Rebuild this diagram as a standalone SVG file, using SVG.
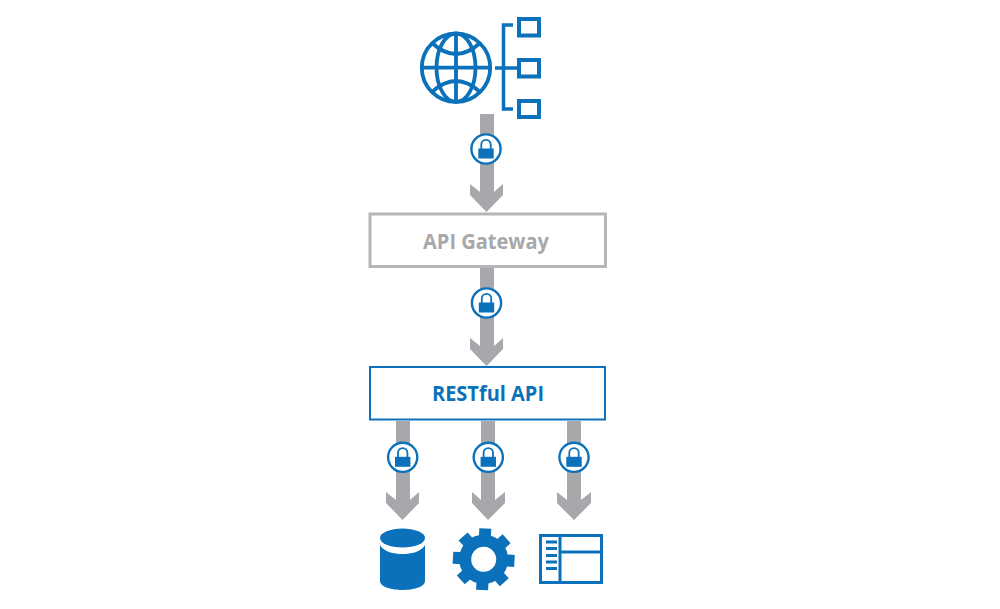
<svg xmlns="http://www.w3.org/2000/svg" width="1000" height="609" viewBox="0 0 1000 609">
<style>
.a{fill:#a7a8ab}
.b{fill:#0a71ba}
.l{fill:none;stroke:#0a71ba}
.t{font-family:"Open Sans","Liberation Sans",sans-serif;font-size:21px;font-weight:700;text-anchor:middle}
</style>
<defs>
<symbol id="lock" overflow="visible">
<circle cx="0" cy="0" r="14.600" fill="#fff" stroke="#0a71ba" stroke-width="2.400"/>
<path d="M-4.700 0V-4.500a4.700 4.700 0 0 1 9.400 0V0" fill="none" stroke="#0a71ba" stroke-width="1.800"/>
<rect x="-7.700" y="-0.500" width="15.400" height="10" fill="#0a71ba"/>
</symbol>
</defs>
<rect width="1000" height="609" fill="#fff"/>
<g id="connectors">
<path class="a" d="M480 114H494V192L503 184V195L486.500 212L470 195V184L480 192Z"/>
<path class="a" d="M480 267H494V346L503 338V349L486.500 366L470 349V338L480 346Z"/>
<path class="a" d="M396 421H410V500L419 492V503L402.500 520L386 503V492L396 500Z"/>
<path class="a" d="M481 421H495V500L505 492V503L488 520L472 503V492L481 500Z"/>
<path class="a" d="M567 421H581V500L591 492V503L574 520L557 503V492L567 500Z"/>
<use href="#lock" x="486" y="149"/>
<use href="#lock" x="486.500" y="303"/>
<use href="#lock" x="402.700" y="457.300"/>
<use href="#lock" x="488.300" y="457.300"/>
<use href="#lock" x="574" y="457.300"/>
</g>
<g id="client">
<g class="l" stroke-width="3.800">
<circle cx="456" cy="67.700" r="34.200"/>
<ellipse cx="456" cy="67.700" rx="19.500" ry="34.200"/>
<path d="M456 33V102M421.500 67.700H490.500"/>
<path d="M432 43Q456 65 480 43M432 92Q456 70 480 92"/>
</g>
<g class="l" stroke-width="3.500">
<path d="M513 25H503.500V109H513M495 68H517"/>
</g>
<g class="l" stroke-width="4">
<rect x="519" y="19" width="20" height="16.500"/>
<rect x="519" y="60" width="20" height="16.500"/>
<rect x="519" y="101" width="20" height="16"/>
</g>
</g>
<g id="api-gateway">
<rect x="370" y="214" width="235.500" height="52.500" fill="#fff" stroke="#b5b6b8" stroke-width="3"/>
<text class="t" x="486" y="248.500" fill="#a7a8ab" textLength="126" lengthAdjust="spacingAndGlyphs">API Gateway</text>
</g>
<g id="restful-api">
<rect x="370" y="367" width="235" height="52.500" fill="#fff" stroke="#0a71ba" stroke-width="2"/>
<text class="t" x="488" y="400.500" fill="#0a71ba" textLength="112" lengthAdjust="spacingAndGlyphs">RESTful API</text>
</g>
<g id="database">
<ellipse class="b" cx="402.500" cy="538" rx="22.500" ry="9.500"/>
<path class="b" d="M380 545C384 552 394 554 402.500 554S421 552 425 545V581C425 587 413 590 402.500 590S380 587 380 581Z"/>
</g>
<g id="service">
<g transform="rotate(3 483.700 559.300)">
<circle cx="483.700" cy="559.300" r="18.500" fill="none" stroke="#0a71ba" stroke-width="12"/>
<g class="b">
<rect x="477.700" y="528.500" width="12" height="12"/>
<rect x="477.700" y="528.500" width="12" height="12" transform="rotate(45 483.700 559.300)"/>
<rect x="477.700" y="528.500" width="12" height="12" transform="rotate(90 483.700 559.300)"/>
<rect x="477.700" y="528.500" width="12" height="12" transform="rotate(135 483.700 559.300)"/>
<rect x="477.700" y="528.500" width="12" height="12" transform="rotate(180 483.700 559.300)"/>
<rect x="477.700" y="528.500" width="12" height="12" transform="rotate(225 483.700 559.300)"/>
<rect x="477.700" y="528.500" width="12" height="12" transform="rotate(270 483.700 559.300)"/>
<rect x="477.700" y="528.500" width="12" height="12" transform="rotate(315 483.700 559.300)"/>
</g>
</g>
</g>
<g id="ui-window">
<rect x="540.500" y="535.500" width="61" height="47" fill="#fff" stroke="#0a71ba" stroke-width="3"/>
<path class="l" stroke-width="3" d="M560 535V583M560 552H602"/>
<g class="b">
<rect x="546" y="540.500" width="11" height="3"/>
<rect x="546" y="547" width="11" height="3"/>
<rect x="546" y="554" width="11" height="3"/>
<rect x="546" y="560.500" width="11" height="3"/>
<rect x="546" y="567" width="11" height="3"/>
</g>
</g>
</svg>
